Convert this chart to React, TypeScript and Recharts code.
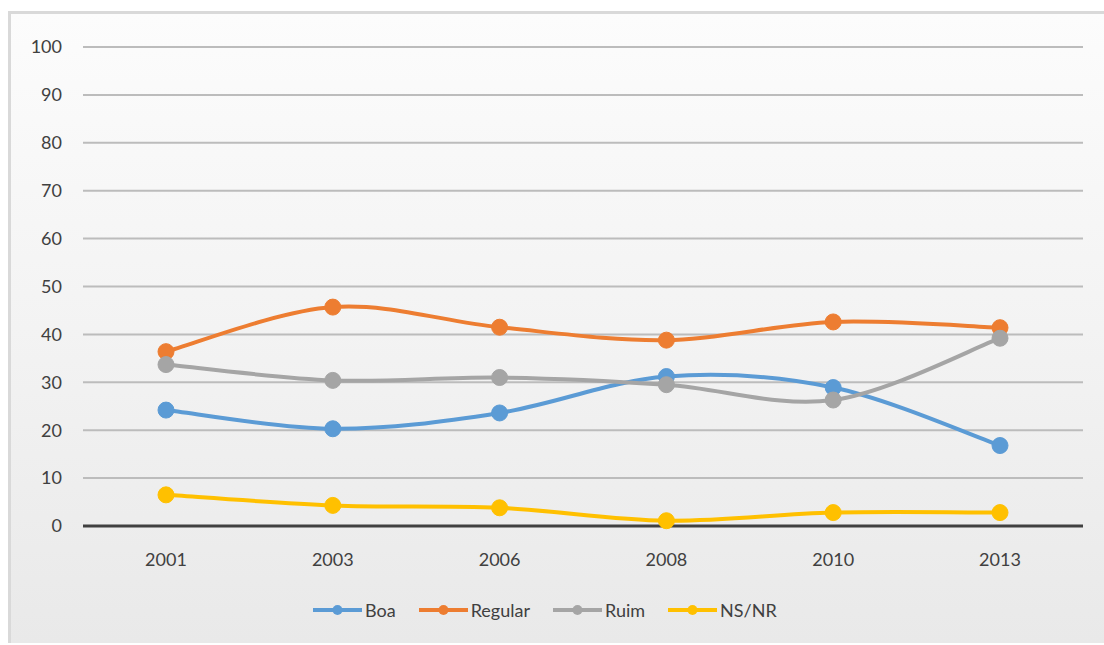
import React from "react";
import {
  LineChart,
  Line,
  XAxis,
  YAxis,
  CartesianGrid,
} from "recharts";

const years = ["2001", "2003", "2006", "2008", "2010", "2013"];
const boa = [24.2, 20.3, 23.6, 31.2, 28.9, 16.8];
const regular = [36.4, 45.7, 41.5, 38.8, 42.6, 41.4];
const ruim = [33.7, 30.4, 31.0, 29.5, 26.3, 39.2];
const nsnr = [6.5, 4.3, 3.8, 1.1, 2.8, 2.8];
const yTicks = [0, 10, 20, 30, 40, 50, 60, 70, 80, 90, 100];

const series = [
  { key: "Boa", values: boa, color: "#5b9bd5" },
  { key: "Regular", values: regular, color: "#ed7d31" },
  { key: "Ruim", values: ruim, color: "#a5a5a5" },
  { key: "NS/NR", values: nsnr, color: "#ffc000" },
];

const data = years.map((year, i) => {
  const row: Record<string, string | number> = { year };
  series.forEach((s) => {
    row[s.key] = s.values[i];
  });
  return row;
});

// Excel-style smoothed line (Catmull-Rom through every point)
const smoothCurve = (context: any) => {
  let pts: number[][] = [];
  return {
    areaStart() {},
    areaEnd() {},
    lineStart() {
      pts = [];
    },
    point(x: number, y: number) {
      pts.push([+x, +y]);
    },
    lineEnd() {
      if (!pts.length) return;
      context.moveTo(pts[0][0], pts[0][1]);
      for (let i = 0; i < pts.length - 1; i++) {
        const p0 = pts[i - 1] || pts[i];
        const p1 = pts[i];
        const p2 = pts[i + 1];
        const p3 = pts[i + 2] || p2;
        context.bezierCurveTo(
          p1[0] + (p2[0] - p0[0]) / 6,
          p1[1] + (p2[1] - p0[1]) / 6,
          p2[0] - (p3[0] - p1[0]) / 6,
          p2[1] - (p3[1] - p1[1]) / 6,
          p2[0],
          p2[1]
        );
      }
    },
  };
};

const font = "Lato, 'Open Sans', sans-serif";
const tickStyle = { fontSize: 18, fill: "#404040", fontFamily: font };

function ChartLegend() {
  return (
    <div
      style={{
        position: "absolute",
        left: 313,
        top: 599,
        display: "flex",
        alignItems: "center",
        gap: 23,
        fontFamily: font,
        fontSize: 18,
        color: "#404040",
      }}
    >
      {series.map((s) => (
        <div key={s.key} style={{ display: "flex", alignItems: "center" }}>
          <svg width={49} height={14} style={{ marginRight: 3 }}>
            <line x1={0} y1={7} x2={49} y2={7} stroke={s.color} strokeWidth={4} />
            <circle cx={24.5} cy={7} r={5} fill={s.color} />
          </svg>
          <span>{s.key}</span>
        </div>
      ))}
    </div>
  );
}

export default function App() {
  return (
    <div
      style={{
        position: "fixed",
        left: 0,
        top: 0,
        width: 1104,
        height: 645,
        background: "#ffffff",
        overflow: "hidden",
      }}
    >
      <div
        style={{
          position: "absolute",
          left: 8,
          top: 11,
          right: 0,
          bottom: 2,
          borderTop: "3px solid #d9d9d9",
          borderLeft: "3px solid #d9d9d9",
          background:
            "linear-gradient(to bottom, #fcfcfc 0%, #f3f3f3 50%, #e9e9e9 100%)",
        }}
      />
      <div style={{ position: "absolute", left: 0, top: 0 }}>
        <LineChart
          width={1104}
          height={645}
          data={data}
          margin={{ top: 47, right: 21, bottom: 89, left: 0 }}
        >
          <CartesianGrid vertical={false} stroke="#bcbcbc" strokeWidth={2} />
          <XAxis
            dataKey="year"
            height={30}
            padding={{ left: 83, right: 83 }}
            axisLine={{ stroke: "#404040", strokeWidth: 3 }}
            tickLine={false}
            tickMargin={21}
            tick={tickStyle}
          />
          <YAxis
            width={83}
            domain={[0, 100]}
            ticks={yTicks}
            interval={0}
            axisLine={false}
            tickLine={false}
            tickMargin={15}
            tick={tickStyle}
          />
          {series.map((s) => (
            <Line
              key={s.key}
              dataKey={s.key}
              type={smoothCurve as any}
              stroke={s.color}
              strokeWidth={4}
              dot={{ r: 8, fill: s.color, stroke: s.color, strokeWidth: 1 }}
              activeDot={false}
              isAnimationActive={false}
            />
          ))}
        </LineChart>
      </div>
      <ChartLegend />
    </div>
  );
}
